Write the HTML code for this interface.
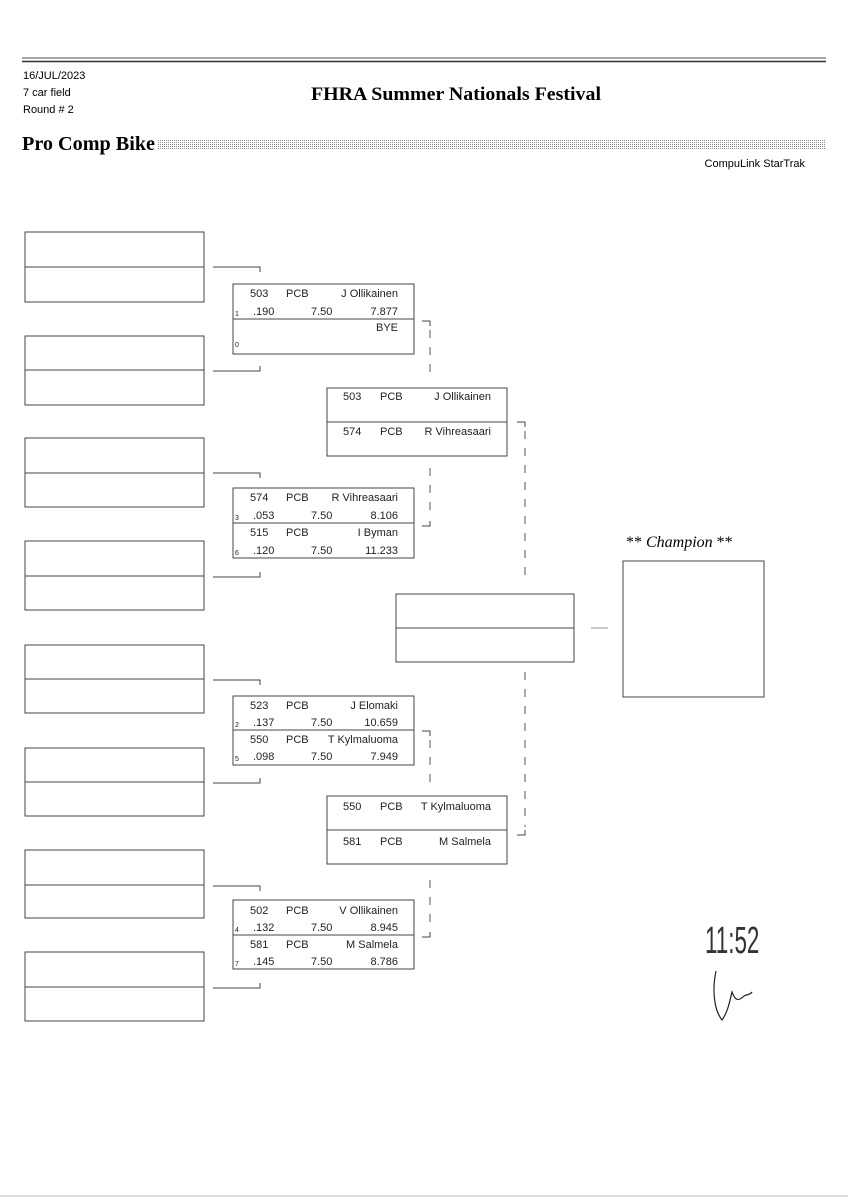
<!DOCTYPE html>
<html><head><meta charset="utf-8"><style>
html,body{margin:0;padding:0;background:#fff;}
svg{display:block}
.h{font-family:"Liberation Sans",sans-serif;}
.m{font-family:"Liberation Sans",sans-serif;font-size:11px;fill:#222;}
.s{font-family:"Liberation Sans",sans-serif;font-size:7px;fill:#222;}
</style></head><body>
<svg width="848" height="1200" viewBox="0 0 848 1200" xmlns="http://www.w3.org/2000/svg">
<defs>
<pattern id="dots" width="2" height="2" patternUnits="userSpaceOnUse"><rect width="1" height="1" fill="#888"/></pattern>
</defs>
<line x1="22" y1="58" x2="826" y2="58" stroke="#888" stroke-width="1.5"/>
<line x1="22" y1="61.5" x2="826" y2="61.5" stroke="#333" stroke-width="1.5"/>
<text x="23" y="79" class="h" font-size="11">16/JUL/2023</text>
<text x="23" y="96" class="h" font-size="11">7 car field</text>
<text x="23" y="113" class="h" font-size="11">Round # 2</text>
<text x="311" y="100" font-family="Liberation Serif,serif" font-weight="bold" font-size="19" textLength="290" lengthAdjust="spacingAndGlyphs">FHRA Summer Nationals Festival</text>
<text x="22" y="150" font-family="Liberation Serif,serif" font-weight="bold" font-size="20" textLength="133" lengthAdjust="spacingAndGlyphs">Pro Comp Bike</text>
<rect x="157" y="139" width="669" height="10" fill="url(#dots)"/>
<text x="805" y="167" class="h" font-size="11" text-anchor="end">CompuLink StarTrak</text>

<g fill="none" stroke="#444" stroke-width="1">
<rect x="25" y="232" width="179" height="70"/><line x1="25" y1="267" x2="204" y2="267"/>
<rect x="25" y="336" width="179" height="69"/><line x1="25" y1="370" x2="204" y2="370"/>
<rect x="25" y="438" width="179" height="69"/><line x1="25" y1="473" x2="204" y2="473"/>
<rect x="25" y="541" width="179" height="69"/><line x1="25" y1="576" x2="204" y2="576"/>
<rect x="25" y="645" width="179" height="68"/><line x1="25" y1="679" x2="204" y2="679"/>
<rect x="25" y="748" width="179" height="68"/><line x1="25" y1="782" x2="204" y2="782"/>
<rect x="25" y="850" width="179" height="68"/><line x1="25" y1="885" x2="204" y2="885"/>
<rect x="25" y="952" width="179" height="69"/><line x1="25" y1="987" x2="204" y2="987"/>
<path d="M213 267H260V272"/><path d="M213 371H260V366"/>
<path d="M213 473H260V478"/><path d="M213 577H260V572"/>
<path d="M213 680H260V685"/><path d="M213 783H260V778"/>
<path d="M213 886H260V891"/><path d="M213 988H260V983"/>
<rect x="233" y="284" width="181" height="70"/><line x1="233" y1="319" x2="414" y2="319"/>
<rect x="233" y="488" width="181" height="70"/><line x1="233" y1="523" x2="414" y2="523"/>
<rect x="233" y="696" width="181" height="69"/><line x1="233" y1="730" x2="414" y2="730"/>
<rect x="233" y="900" width="181" height="69"/><line x1="233" y1="935" x2="414" y2="935"/>
<rect x="327" y="388" width="180" height="68"/><line x1="327" y1="422" x2="507" y2="422"/>
<rect x="327" y="796" width="180" height="68"/><line x1="327" y1="830" x2="507" y2="830"/>
<rect x="396" y="594" width="178" height="68"/><line x1="396" y1="628" x2="574" y2="628"/>
<line x1="591" y1="628" x2="608" y2="628" stroke="#999"/>
<rect x="623" y="561" width="141" height="136"/>
<!-- solid ticks -->
<path d="M422 321H430V326"/><path d="M430 521V526H422"/>
<path d="M517 422H525V427"/><path d="M525 830V835H517"/>
<path d="M422 731H430V736"/><path d="M430 932V937H422"/>
</g>
<g fill="none" stroke="#555" stroke-width="1" stroke-dasharray="8,9">
<path d="M430 330V376"/>
<path d="M430 468V518"/>
<path d="M525 431V582"/>
<path d="M525 672V827"/>
<path d="M430 740V786"/>
<path d="M430 880V929"/>
</g>

<g class="m">
<text x="250" y="297" class="m">503</text><text x="286" y="297" class="m">PCB</text><text x="398" y="297" class="m" text-anchor="end">J Ollikainen</text>
<text x="253" y="315" class="m">.190</text><text x="311" y="315" class="m">7.50</text><text x="398" y="315" class="m" text-anchor="end">7.877</text>
<text x="398" y="331" class="m" text-anchor="end">BYE</text>
<text x="235" y="316" class="s">1</text><text x="235" y="347" class="s">0</text>
<text x="250" y="501" class="m">574</text><text x="286" y="501" class="m">PCB</text><text x="398" y="501" class="m" text-anchor="end">R Vihreasaari</text>
<text x="253" y="519" class="m">.053</text><text x="311" y="519" class="m">7.50</text><text x="398" y="519" class="m" text-anchor="end">8.106</text>
<text x="250" y="536" class="m">515</text><text x="286" y="536" class="m">PCB</text><text x="398" y="536" class="m" text-anchor="end">I Byman</text>
<text x="253" y="554" class="m">.120</text><text x="311" y="554" class="m">7.50</text><text x="398" y="554" class="m" text-anchor="end">11.233</text>
<text x="235" y="520" class="s">3</text><text x="235" y="555" class="s">6</text>
<text x="250" y="709" class="m">523</text><text x="286" y="709" class="m">PCB</text><text x="398" y="709" class="m" text-anchor="end">J Elomaki</text>
<text x="253" y="726" class="m">.137</text><text x="311" y="726" class="m">7.50</text><text x="398" y="726" class="m" text-anchor="end">10.659</text>
<text x="250" y="743" class="m">550</text><text x="286" y="743" class="m">PCB</text><text x="398" y="743" class="m" text-anchor="end">T Kylmaluoma</text>
<text x="253" y="760" class="m">.098</text><text x="311" y="760" class="m">7.50</text><text x="398" y="760" class="m" text-anchor="end">7.949</text>
<text x="235" y="727" class="s">2</text><text x="235" y="761" class="s">5</text>
<text x="250" y="914" class="m">502</text><text x="286" y="914" class="m">PCB</text><text x="398" y="914" class="m" text-anchor="end">V Ollikainen</text>
<text x="253" y="931" class="m">.132</text><text x="311" y="931" class="m">7.50</text><text x="398" y="931" class="m" text-anchor="end">8.945</text>
<text x="250" y="948" class="m">581</text><text x="286" y="948" class="m">PCB</text><text x="398" y="948" class="m" text-anchor="end">M Salmela</text>
<text x="253" y="965" class="m">.145</text><text x="311" y="965" class="m">7.50</text><text x="398" y="965" class="m" text-anchor="end">8.786</text>
<text x="235" y="932" class="s">4</text><text x="235" y="966" class="s">7</text>
<text x="343" y="400" class="m">503</text><text x="380" y="400" class="m">PCB</text><text x="491" y="400" class="m" text-anchor="end">J Ollikainen</text>
<text x="343" y="435" class="m">574</text><text x="380" y="435" class="m">PCB</text><text x="491" y="435" class="m" text-anchor="end">R Vihreasaari</text>
<text x="343" y="810" class="m">550</text><text x="380" y="810" class="m">PCB</text><text x="491" y="810" class="m" text-anchor="end">T Kylmaluoma</text>
<text x="343" y="845" class="m">581</text><text x="380" y="845" class="m">PCB</text><text x="491" y="845" class="m" text-anchor="end">M Salmela</text>
</g>
<text x="626" y="547" font-family="Liberation Serif,serif" font-size="16"><tspan>** </tspan><tspan font-style="italic">Champion</tspan><tspan> **</tspan></text>

<text x="705" y="953" font-family="Liberation Sans,sans-serif" font-size="32" fill="#333" transform="translate(705,953) scale(0.7,1.2) translate(-705,-953)">11:52</text>
<path d="M716 971 C712 990 714 1010 722 1020 C728 1012 730 1000 732 992 C735 1000 738 1002 744 996 C748 994 750 995 752 992" fill="none" stroke="#222" stroke-width="1.2"/>
<line x1="0" y1="1196" x2="848" y2="1196" stroke="#bbb" stroke-width="1"/>
</svg>
</body></html>
